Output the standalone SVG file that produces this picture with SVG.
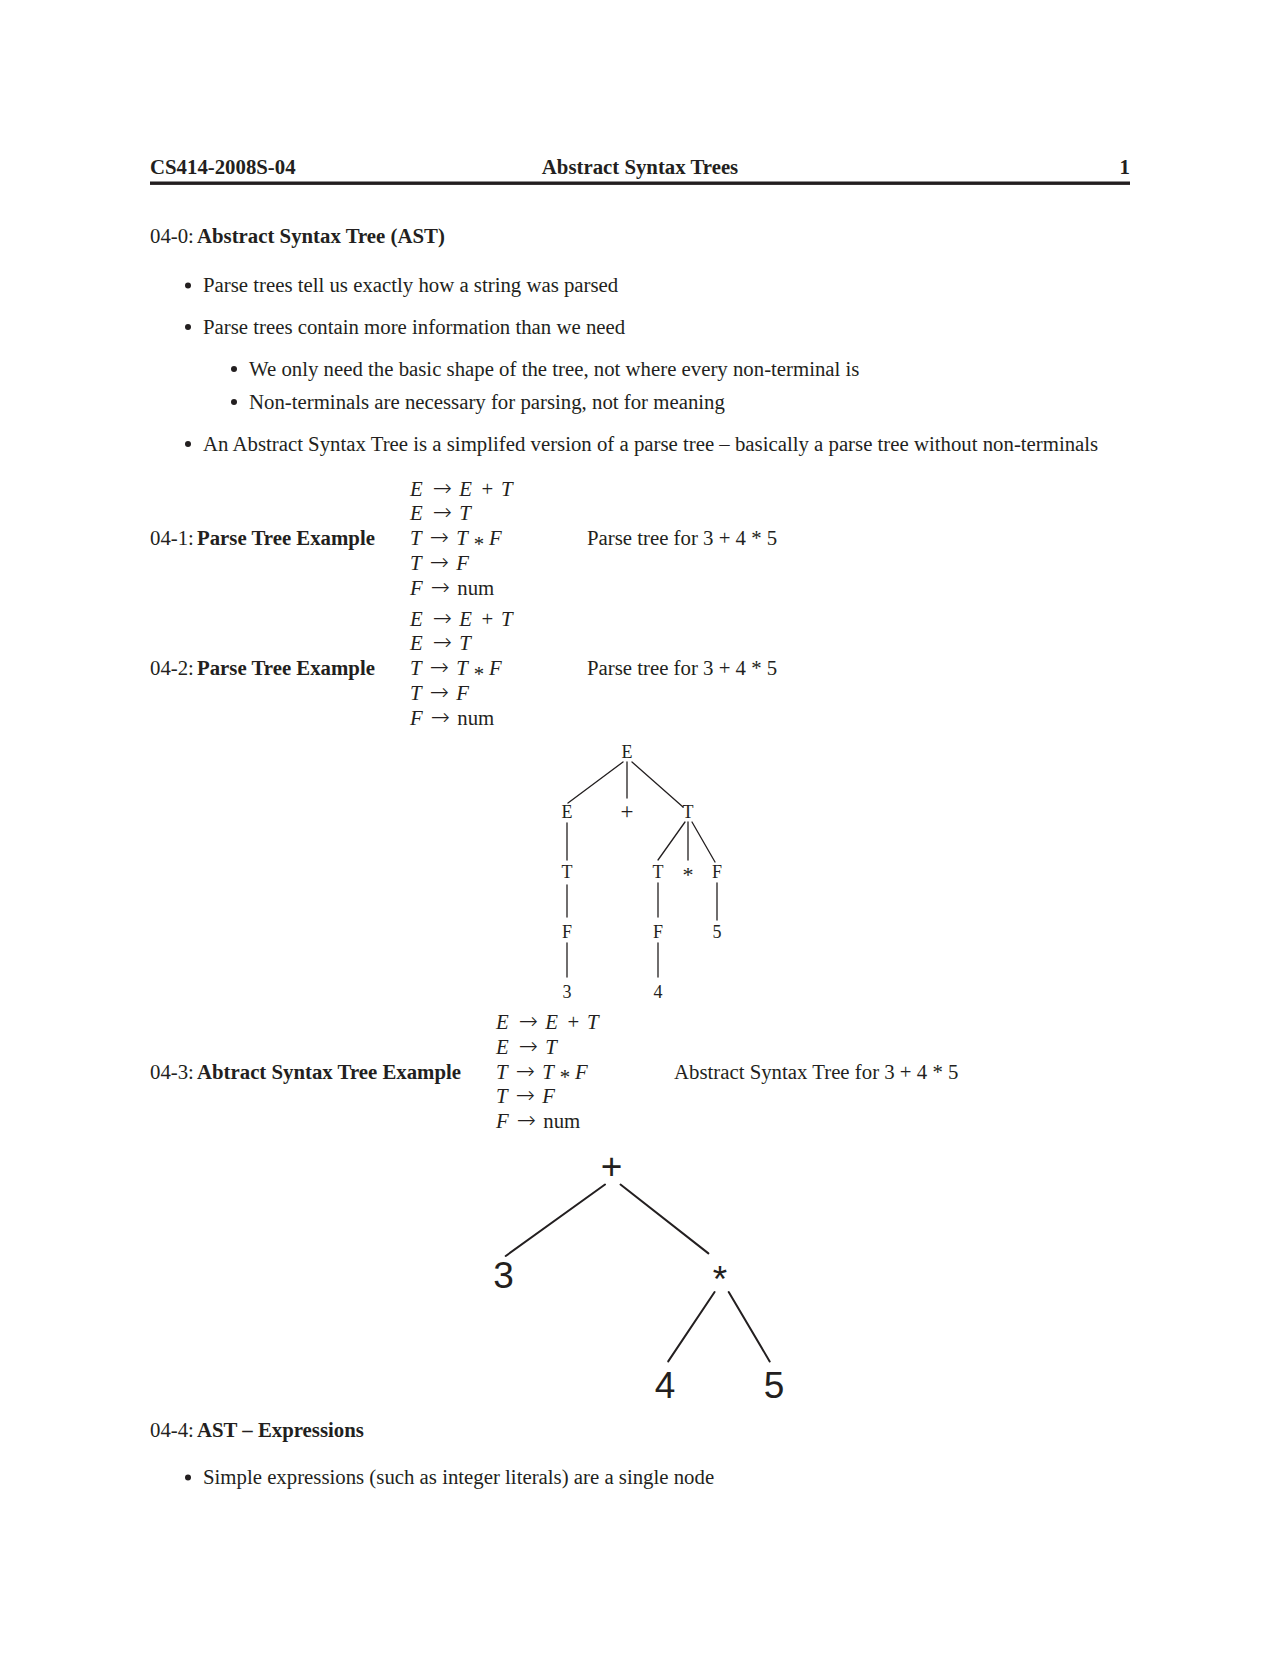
<svg xmlns="http://www.w3.org/2000/svg" width="1280" height="1656" viewBox="0 0 1280 1656">
<style>
  .txt { font-family: "Liberation Serif", "Times New Roman", serif; font-size: 20.8px; fill: #231f20; }
  .b { font-weight: bold; }
  .it { font-style: italic; }
  .arr { font-family: "DejaVu Sans", sans-serif; font-size: 23px; font-weight: 200; text-anchor: middle; }
  .mono { font-family: "Liberation Serif", "Courier New", serif; font-size: 18px; fill: #231f20; text-anchor: middle; }
  .sans { font-family: "Liberation Sans", Arial, sans-serif; font-size: 37px; fill: #231f20; text-anchor: middle; }
  .mid { text-anchor: middle; }
  .edge { stroke: #231f20; stroke-width: 1.3; fill: none; stroke-linecap: round; }
  .edge2 { stroke: #231f20; stroke-width: 2; fill: none; stroke-linecap: round; }
  .dot { fill: #231f20; }
</style>
<defs>
  <g id="gram">
    <text class="txt" y="0"><tspan class="it" x="0">E</tspan><tspan class="arr" x="32.3">→</tspan><tspan class="it" x="49.3">E</tspan><tspan class="mid" x="77.3">+</tspan><tspan class="it" x="91">T</tspan></text>
    <text class="txt" y="24.8"><tspan class="it" x="0">E</tspan><tspan class="arr" x="32.3">→</tspan><tspan class="it" x="49.3">T</tspan></text>
    <text class="txt" y="49.6"><tspan class="it" x="0">T</tspan><tspan class="arr" x="29.4">→</tspan><tspan class="it" x="46.2">T</tspan></text>
    <text class="txt mid" x="68.9" y="55.1">*</text>
    <text class="txt it" x="79" y="49.6">F</text>
    <text class="txt" y="74.4"><tspan class="it" x="0">T</tspan><tspan class="arr" x="29.4">→</tspan><tspan class="it" x="46.2">F</tspan></text>
    <text class="txt" y="99.2"><tspan class="it" x="0">F</tspan><tspan class="arr" x="30.5">→</tspan><tspan x="47.3">num</tspan></text>
  </g>
</defs>

<g id="header">
  <text class="txt b" x="150" y="174">CS414-2008S-04</text>
  <text class="txt b mid" x="640" y="174">Abstract Syntax Trees</text>
  <text class="txt b" x="1130" y="174" text-anchor="end">1</text>
  <rect x="150" y="181.5" width="980" height="3.4" fill="#231f20"/>
</g>

<g id="sec-04-0">
  <text class="txt" x="150" y="243">04-0:<tspan class="b" x="197">Abstract Syntax Tree (AST)</tspan></text>
  <circle class="dot" cx="188" cy="285.5" r="3"/>
  <text class="txt" x="203" y="292">Parse trees tell us exactly how a string was parsed</text>
  <circle class="dot" cx="188" cy="327" r="3"/>
  <text class="txt" x="203" y="333.5">Parse trees contain more information than we need</text>
  <circle class="dot" cx="234" cy="369" r="3"/>
  <text class="txt" x="249" y="375.5">We only need the basic shape of the tree, not where every non-terminal is</text>
  <circle class="dot" cx="234" cy="402" r="3"/>
  <text class="txt" x="249" y="408.5">Non-terminals are necessary for parsing, not for meaning</text>
  <circle class="dot" cx="188" cy="444" r="3"/>
  <text class="txt" x="203" y="450.5">An Abstract Syntax Tree is a simplifed version of a parse tree – basically a parse tree without non-terminals</text>
</g>

<g id="sec-04-1">
  <text class="txt" x="150" y="545">04-1:<tspan class="b" x="197">Parse Tree Example</tspan></text>
  <use href="#gram" x="410" y="495.5"/>
  <text class="txt" x="587" y="545">Parse tree for 3 + 4 * 5</text>
</g>

<g id="sec-04-2">
  <text class="txt" x="150" y="675">04-2:<tspan class="b" x="197">Parse Tree Example</tspan></text>
  <use href="#gram" x="410" y="625.5"/>
  <text class="txt" x="587" y="675">Parse tree for 3 + 4 * 5</text>
</g>

<g id="parse-tree-connectors">
  <line class="edge" x1="623" y1="762" x2="568" y2="803"/>
  <line class="edge" x1="627" y1="762" x2="627" y2="798"/>
  <line class="edge" x1="632" y1="762" x2="683" y2="807"/>
  <line class="edge" x1="567" y1="823" x2="567" y2="860"/>
  <line class="edge" x1="567" y1="885" x2="567" y2="917"/>
  <line class="edge" x1="567" y1="943" x2="567" y2="977"/>
  <line class="edge" x1="685" y1="822" x2="658" y2="860"/>
  <line class="edge" x1="688" y1="822" x2="688" y2="860"/>
  <line class="edge" x1="692" y1="822" x2="715" y2="862"/>
  <line class="edge" x1="658" y1="883" x2="658" y2="917"/>
  <line class="edge" x1="658" y1="943" x2="658" y2="977"/>
  <line class="edge" x1="717" y1="883" x2="717" y2="920"/>
</g>
<g id="pt-E-root"><text class="mono" x="627" y="758">E</text></g>
<g id="pt-E"><text class="mono" x="567" y="818">E</text></g>
<g id="pt-plus"><text class="mono" x="627" y="819" style="font-size:23px">+</text></g>
<g id="pt-T"><text class="mono" x="688" y="818">T</text></g>
<g id="pt-T-left"><text class="mono" x="567" y="878">T</text></g>
<g id="pt-T-right"><text class="mono" x="658" y="878">T</text></g>
<g id="pt-star"><text class="mono" x="688" y="882" style="font-size:22px">*</text></g>
<g id="pt-F-right"><text class="mono" x="717" y="878">F</text></g>
<g id="pt-F-left"><text class="mono" x="567" y="938">F</text></g>
<g id="pt-F-mid"><text class="mono" x="658" y="938">F</text></g>
<g id="pt-5"><text class="mono" x="717" y="938">5</text></g>
<g id="pt-3"><text class="mono" x="567" y="998">3</text></g>
<g id="pt-4"><text class="mono" x="658" y="998">4</text></g>

<g id="sec-04-3">
  <text class="txt" x="150" y="1078.5">04-3:<tspan class="b" x="197">Abtract Syntax Tree Example</tspan></text>
  <use href="#gram" x="496" y="1029"/>
  <text class="txt" x="674" y="1078.5">Abstract Syntax Tree for 3 + 4 * 5</text>
</g>

<g id="ast-connectors">
  <line class="edge2" x1="605" y1="1184.5" x2="505.7" y2="1256"/>
  <line class="edge2" x1="620.5" y1="1184.5" x2="708.4" y2="1253.4"/>
  <line class="edge2" x1="714.6" y1="1292" x2="668.2" y2="1361.4"/>
  <line class="edge2" x1="728.7" y1="1292" x2="769.7" y2="1361.4"/>
</g>
<g id="ast-plus"><text class="sans" x="611.5" y="1179">+</text></g>
<g id="ast-3"><text class="sans" x="503.5" y="1288">3</text></g>
<g id="ast-star"><text class="sans" x="720" y="1292">*</text></g>
<g id="ast-4"><text class="sans" x="665" y="1397.5">4</text></g>
<g id="ast-5"><text class="sans" x="774" y="1397.5">5</text></g>

<g id="sec-04-4">
  <text class="txt" x="150" y="1437">04-4:<tspan class="b" x="197">AST – Expressions</tspan></text>
  <circle class="dot" cx="188" cy="1477.5" r="3"/>
  <text class="txt" x="203" y="1484">Simple expressions (such as integer literals) are a single node</text>
</g>
</svg>
